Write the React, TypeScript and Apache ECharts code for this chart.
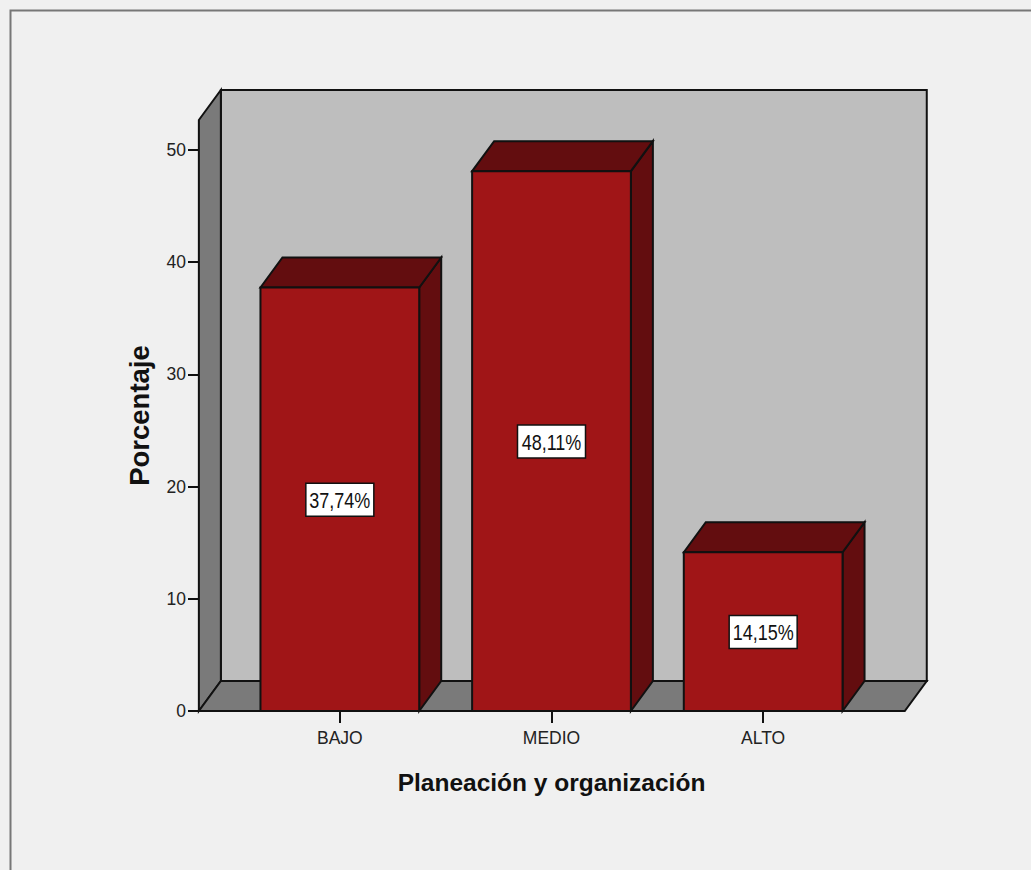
import React, { useEffect, useRef } from "react";
import * as echarts from "echarts";

const categories = ["BAJO", "MEDIO", "ALTO"];
const percentages = [37.74, 48.11, 14.15];
const yTicks = [0, 10, 20, 30, 40, 50];
const xTitle = "Planeación y organización";
const yTitle = "Porcentaje";

const DX = 22;
const DY = 30;
const INK = "#111111";
const sans = "'Liberation Sans', Arial, sans-serif";

const shape = (points: number[][], fill: string) => ({
  type: "polygon",
  shape: { points },
  style: { fill, stroke: INK, lineWidth: 2, lineJoin: "miter" },
});

export default function App() {
  const ref = useRef<HTMLDivElement>(null);
  useEffect(() => {
    document.body.style.margin = "0";
    const chart = echarts.init(ref.current!, null, { renderer: "svg" });
    chart.setOption({
      animation: false,
      backgroundColor: "#f0f0f0",
      graphic: [
        {
          type: "polyline",
          z: 0,
          shape: { points: [[10.5, 870], [10.5, 10.5], [1031, 10.5]] },
          style: { fill: "none", stroke: "#777777", lineWidth: 2 },
        },
      ],
      grid: { left: 234, width: 635, top: 120, height: 591 },
      xAxis: {
        type: "category",
        data: categories,
        boundaryGap: true,
        axisLine: { show: false },
        axisTick: { show: true, alignWithLabel: true, length: 12, lineStyle: { color: INK, width: 2 } },
        axisLabel: { color: "#222222", fontFamily: sans, fontSize: 17.5, margin: 18, interval: 0 },
        name: xTitle,
        nameLocation: "middle",
        nameGap: 59,
        nameTextStyle: { color: "#111111", fontFamily: sans, fontWeight: "bold", fontSize: 24.5 },
      },
      yAxis: {
        type: "value",
        min: 0,
        max: 52.67,
        offset: 35,
        splitLine: { show: false },
        axisLine: { show: false },
        axisTick: { show: true, length: 11, customValues: yTicks, lineStyle: { color: INK, width: 2 } },
        axisLabel: { color: "#222222", fontFamily: sans, fontSize: 17.5, margin: 13, padding: [3, 0, 0, 0], customValues: yTicks },
        name: yTitle,
        nameLocation: "middle",
        nameGap: 46,
        nameTextStyle: { color: "#111111", fontFamily: sans, fontWeight: "bold", fontSize: 27.5 },
      },
      series: [
        {
          type: "custom",
          clip: false,
          silent: true,
          z: 1,
          data: [[0, 0]],
          encode: { x: 0, y: 1 },
          renderItem: (_p: any, api: any) => {
            const band = api.size([1, 0])[0];
            const origin = api.coord([0, 0]);
            const top = api.coord([0, 52.67])[1];
            const l = origin[0] - 0.666 * band;
            const r = origin[0] + 2.669 * band;
            const b = origin[1];
            return {
              type: "group",
              children: [
                shape([[l + DX, top - DY], [r + DX, top - DY], [r + DX, b - DY], [l + DX, b - DY]], "#bebebe"),
                shape([[l, top], [l + DX, top - DY], [l + DX, b - DY], [l, b]], "#7a7a7a"),
                shape([[l, b], [l + DX, b - DY], [r + DX, b - DY], [r, b]], "#7a7a7a"),
              ],
            };
          },
        },
        {
          type: "custom",
          clip: false,
          silent: true,
          z: 2,
          data: percentages.map((v, i) => [i, v]),
          encode: { x: 0, y: 1 },
          renderItem: (_p: any, api: any) => {
            const i = api.value(0);
            const v = api.value(1);
            const half = (api.size([1, 0])[0] * 0.75) / 2;
            const [cx, yTop] = api.coord([i, v]);
            const yBase = api.coord([i, 0])[1];
            const yMid = api.coord([i, v / 2])[1];
            const l = cx - half;
            const r = cx + half;
            return {
              type: "group",
              children: [
                shape([[r, yTop], [r + DX, yTop - DY], [r + DX, yBase - DY], [r, yBase]], "#630d0f"),
                shape([[l, yTop], [l + DX, yTop - DY], [r + DX, yTop - DY], [r, yTop]], "#630d0f"),
                shape([[l, yTop], [r, yTop], [r, yBase], [l, yBase]], "#a01517"),
                {
                  type: "rect",
                  shape: { x: cx - 34, y: yMid - 16, width: 68, height: 33 },
                  style: { fill: "#ffffff", stroke: INK, lineWidth: 1.5 },
                },
                {
                  type: "text",
                  x: cx,
                  y: yMid + 1,
                  scaleY: 1.2,
                  style: {
                    text: v.toFixed(2).replace(".", ",") + "%",
                    fill: "#111111",
                    font: `18px ${sans}`,
                    align: "center",
                    verticalAlign: "middle",
                  },
                },
              ],
            };
          },
        },
      ],
    });
    return () => chart.dispose();
  }, []);
  return <div ref={ref} style={{ position: "absolute", left: 0, top: 0, width: 1031, height: 870 }} />;
}
